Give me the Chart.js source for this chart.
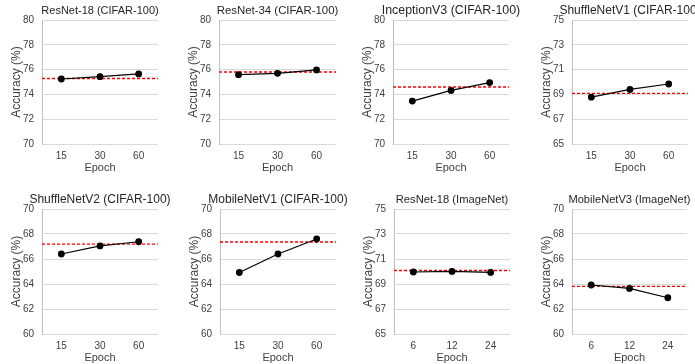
<!DOCTYPE html>
<html>
<head>
<meta charset="utf-8">
<script src="https://cdn.jsdelivr.net/npm/chart.js@4.4.0/dist/chart.umd.min.js"></script>
<style>
body{margin:0;background:#fff;width:695px;height:364px;position:relative;overflow:hidden;}
canvas{position:absolute;}
</style>
</head>
<body>
<script>
// datos
const titulos = ['ResNet-18 (CIFAR-100)','ResNet-34 (CIFAR-100)','InceptionV3 (CIFAR-100)','ShuffleNetV1 (CIFAR-100)',
                 'ShuffleNetV2 (CIFAR-100)','MobileNetV1 (CIFAR-100)','ResNet-18 (ImageNet)','MobileNetV3 (ImageNet)'];
const epocasCifar = ['15','30','60'];
const epocasImagenet = ['6','12','24'];
const accResnet18 = [75.24, 75.43, 75.65];
const accResnet34 = [75.59, 75.70, 75.97];
const accInception = [73.46, 74.32, 74.95];
const accShuffleV1 = [68.78, 69.40, 69.84];
const accShuffleV2 = [66.40, 67.05, 67.38];
const accMobileV1 = [64.92, 66.40, 67.60];
const accResnet18In = [69.96, 70.01, 69.93];
const accMobileV3 = [63.92, 63.65, 62.90];
const baseline = [75.28, 75.81, 74.60, 69.08, 67.19, 67.36, 70.08, 63.81];
const yMin = [70, 70, 70, 65, 60, 60, 65, 60];
const yMax = [80, 80, 80, 75, 70, 70, 75, 70];

const series = [accResnet18, accResnet34, accInception, accShuffleV1, accShuffleV2, accMobileV1, accResnet18In, accMobileV3];
const etiquetas = [epocasCifar, epocasCifar, epocasCifar, epocasCifar, epocasCifar, epocasCifar, epocasImagenet, epocasImagenet];

// area del grafico de cada panel: izquierda, arriba, derecha, abajo
const areas = [[42,20,158,144],[219,20,336,144],[393,20,509,144],[572,20,688,144],
               [42,209,158,334],[220,209,336,334],[394,209,510,334],[572,209,687,334]];
const tamTitulo = [11, 11.4, 12.4, 12, 12, 12, 11.2, 11.1];

const fuente = 'Liberation Sans, Arial, sans-serif';
const gris = '#404040';

// linea roja discontinua de referencia
const lineaBase = {
    id: 'lineaBase',
    beforeDatasetsDraw(chart, args, opts){
        const {ctx, chartArea, scales} = chart;
        const y = scales.y.getPixelForValue(opts.value);
        ctx.save();
        ctx.strokeStyle = '#ff0000';
        ctx.lineWidth = 1.4;
        ctx.setLineDash([3, 2]);
        ctx.beginPath();
        ctx.moveTo(chartArea.left, y);
        ctx.lineTo(chartArea.right, y);
        ctx.stroke();
        ctx.restore();
    }
};

const construirPanel = (i) => {
    const [L, T, R, B] = areas[i];
    const canvas = document.createElement('canvas');
    const w = R - L + 84;
    const h = B - T + 52;
    canvas.width = w;
    canvas.height = h;
    canvas.style.left = (L - 42) + 'px';
    canvas.style.top = (T - 20) + 'px';
    canvas.style.width = w + 'px';
    canvas.style.height = h + 'px';
    document.body.appendChild(canvas);

    const config = {
        type: 'line',
        data: {
            labels: etiquetas[i],
            datasets: [{
                data: series[i],
                borderColor: '#000',
                backgroundColor: '#000',
                borderWidth: 1.2,
                pointRadius: 2.8,
                pointHoverRadius: 2.8,
                tension: 0
            }]
        },
        options: {
            responsive: false,
            animation: false,
            devicePixelRatio: 1,
            layout: {padding: 0},
            plugins: {
                legend: {display: false},
                tooltip: {enabled: false},
                title: {
                    display: true,
                    text: titulos[i],
                    color: '#262626',
                    font: {family: fuente, size: tamTitulo[i], weight: 'normal', lineHeight: '14px'},
                    padding: {top: 4, bottom: 2}
                },
                lineaBase: {value: baseline[i]}
            },
            scales: {
                x: {
                    offset: true,
                    grid: {display: false, drawTicks: false},
                    border: {display: false},
                    ticks: {color: gris, padding: 6, font: {family: fuente, size: 10, lineHeight: '12px'}, maxRotation: 0},
                    title: {display: true, text: 'Epoch', color: gris,
                            font: {family: fuente, size: 11, lineHeight: '13px'}, padding: {top: 0, bottom: 2}},
                    afterFit: (s) => { s.height = 32; }
                },
                y: {
                    min: yMin[i],
                    max: yMax[i],
                    grid: {color: '#d9d9d9', drawTicks: false},
                    border: {display: true, color: '#bfbfbf'},
                    ticks: {stepSize: 2, color: gris, padding: 8, font: {family: fuente, size: 10, lineHeight: '12px'}},
                    title: {display: true, text: 'Accuracy (%)', color: gris,
                            font: {family: fuente, size: 12, lineHeight: '13px'}, padding: {top: 10.5, bottom: 0}},
                    afterFit: (s) => { s.width = 42; }
                },
                // eje vacio a la derecha para centrar el titulo
                dummy: {
                    position: 'right',
                    display: true,
                    grid: {display: false},
                    border: {display: false},
                    ticks: {display: false},
                    afterFit: (s) => { s.width = 42; }
                }
            }
        },
        plugins: [lineaBase]
    };

    new Chart(canvas, config);
};

for (let i = 0; i < titulos.length; i++) construirPanel(i);
</script>
</body>
</html>
